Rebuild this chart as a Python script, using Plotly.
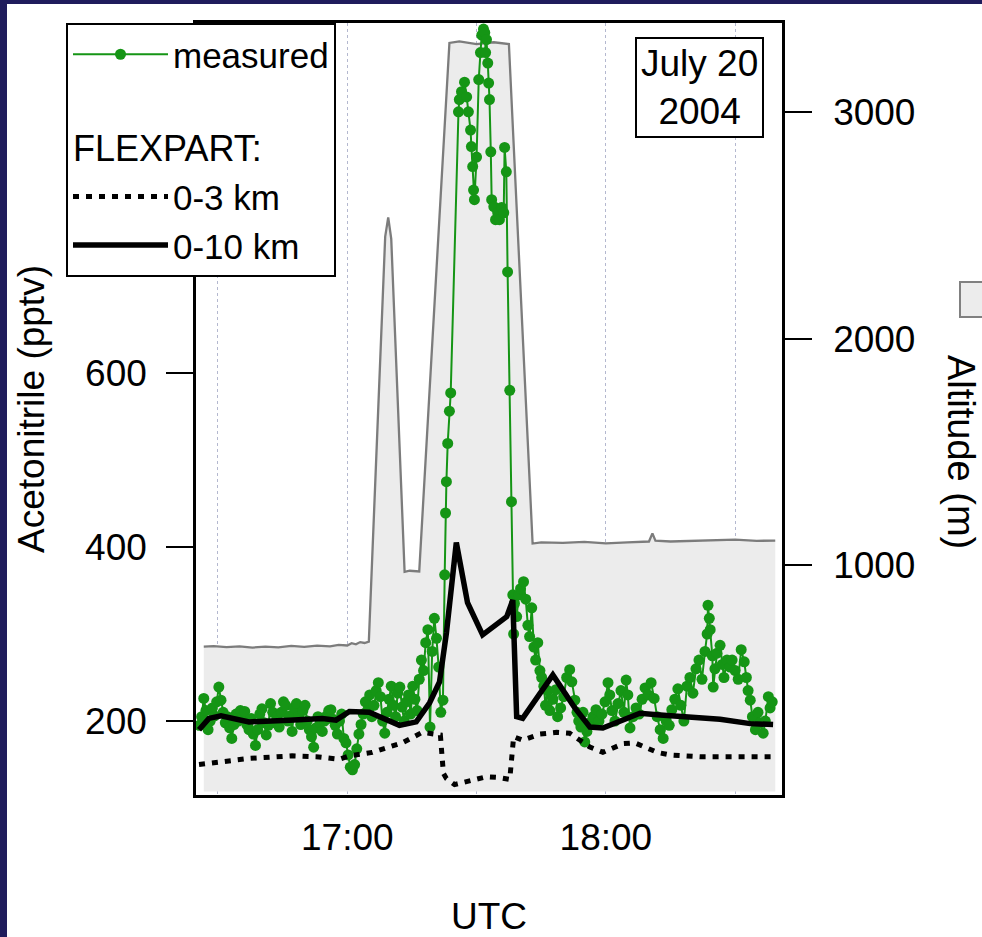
import pandas as pd
import plotly.graph_objects as go

DAY_ORIGIN = "2004-07-20 16:30:00"

# ---- measured acetonitrile (pptv); times in minutes after 16:30 UTC ----
meas_min_pre = [-4.3, -3.8, -3.3, -2.8, -2.3, -1.8, -1.3, -0.8, -0.3, 0.2,
                0.7, 1.2, 1.7, 2.2, 2.7, 3.2, 3.7, 4.2, 4.7, 5.2,
                5.7, 6.2, 6.7, 7.2, 7.7, 8.2, 8.7, 9.2, 9.7, 10.2,
                10.7, 11.2, 11.7, 12.2, 12.7, 13.2, 13.7, 14.2, 14.7, 15.2,
                15.7, 16.2, 16.7, 17.2, 17.7, 18.2, 18.7, 19.2, 19.7, 20.2,
                20.7, 21.2, 21.7, 22.2, 22.7, 23.2, 23.7, 24.2, 24.7, 25.2,
                25.7, 26.2, 26.7, 27.2, 27.7, 28.2, 28.7, 29.2, 29.7, 30.2,
                30.7, 31.2, 31.7, 32.2, 32.7, 33.2, 33.7, 34.2, 34.7,
                35.2, 35.7, 36.2, 36.7, 37.2, 37.7, 38.2, 38.7, 39.2, 39.7,
                40.2, 40.7, 41.2, 41.7, 42.2, 42.7, 43.2, 43.7, 44.2, 44.7,
                45.2, 45.7, 46.2, 46.7, 47.2, 47.7, 48.2, 48.7, 49.2, 49.7,
                50.2, 50.7, 51.2, 51.7, 52.2]
meas_val_pre = [195, 205, 226, 212, 190, 200, 215, 206, 222, 239,
                224, 210, 198, 205, 192, 180, 196, 208, 200, 212,
                205, 211, 196, 190, 203, 185, 172, 190, 208, 214,
                198, 184, 195, 220, 210, 198, 205, 193, 210, 222,
                218, 200, 206, 188, 215, 220, 205, 196, 212, 218,
                200, 190, 182, 170, 192, 205, 198, 188, 200, 206,
                212, 213, 202, 195, 185, 200, 208, 180, 175, 161,
                147, 144, 150, 168, 185, 196, 208, 222, 212,
                230, 205, 218, 235, 244, 228, 200, 186, 210, 225,
                240, 218, 205, 232, 239, 216, 200, 222, 230, 208,
                240, 225, 212, 248, 270, 258, 290, 305, 193, 280,
                318, 295, 262, 210, 224]

meas_min_plume = [52.6, 52.8, 53.0, 53.3, 53.7, 54.0,
                  55.8, 56.0, 56.5, 57.2, 57.7, 58.1, 58.6, 58.8, 59.1, 59.3, 59.5,
                  60.0, 60.5, 60.9, 61.2, 61.6, 61.9, 62.1, 62.3, 62.6, 62.8, 63.0, 63.3, 63.5,
                  64.0, 64.4, 64.9, 65.3, 65.8, 66.3, 66.5, 66.9, 67.2, 67.7, 68.1, 68.4]
meas_val_plume = [368, 439, 475, 519, 556, 577,
                  900, 914, 923, 934, 917, 900, 879, 860, 837, 810, 799,
                  848, 937, 968, 988, 995, 991, 968, 983, 956, 933, 914, 854, 799,
                  791, 776, 784, 776, 790, 784, 859, 831, 716, 580, 452, 345]

meas_min_post = [68.6, 68.8, 69.3, 69.8, 70.2, 70.9, 71.4, 71.9, 72.3, 72.8,
                 73.3, 73.7, 74.2, 74.7, 75.1, 75.6, 76.0, 76.5, 77.0, 77.7,
                 78.4, 78.8, 79.5, 80.2, 80.9, 81.6, 82.1, 82.8, 83.3, 83.7,
                 84.2, 84.7, 85.1, 85.6, 86.3, 87.0, 87.7, 88.4, 89.1, 89.8,
                 90.5, 90.9, 91.4, 92.1, 92.8, 93.5, 94.2, 94.7, 95.1, 95.6,
                 96.3, 97.0, 97.7, 98.4, 99.1, 99.8, 100.5, 101.2, 101.9, 102.6,
                 103.3, 104.0, 104.7, 105.3, 106.0, 106.7, 107.4, 108.1, 108.8, 109.5,
                 110.2, 110.9, 111.6, 112.3, 113.0, 113.5, 113.7, 114.0, 114.2, 114.7,
                 114.9, 115.3, 115.8, 116.5, 117.0, 117.4, 118.1, 118.8, 119.3, 120.0,
                 120.7, 121.4, 122.1, 122.6, 123.0, 123.5, 124.0, 124.7, 125.3, 125.8,
                 126.5, 127.0, 127.7, 128.1, 128.6]
meas_val_post = [300, 335, 320, 345, 352, 360, 340, 310, 297, 330,
                 285, 270, 290, 258, 250, 240, 218, 235, 212, 225,
                 236, 205, 215, 228, 250, 259, 245, 224, 210, 200,
                 193, 210, 176, 188, 198, 205, 213, 200, 208, 222,
                 244, 230, 212, 200, 220, 235, 210, 247, 230, 192,
                 205, 215, 208, 225, 238, 230, 244, 226, 205, 190,
                 180, 200, 195, 213, 225, 237, 218, 200, 240, 250,
                 232, 260, 270, 248, 280, 300, 333, 318, 305, 275,
                 239, 260, 278, 287, 265, 250, 270, 262, 270, 258,
                 248, 282, 268, 250, 235, 224, 205, 190, 210, 198,
                 186, 200, 228, 215, 222]

# ---- FLEXPART 0-10 km ----
flex10_min = [-4.4, -2.1, 0.7, 7.2, 16.5, 24.2, 27.4, 30.5, 35.1, 39.8, 42.1, 46.0,
              49.1, 51.4, 53.0, 55.3, 57.9, 61.4, 67.0, 68.4, 69.3, 70.7, 77.7,
              82.8, 86.3, 89.3, 93.3, 97.9, 102.6, 107.9, 116.5, 123.5, 128.8]
flex10_val = [190, 203, 206, 199, 201, 203, 201, 211, 210, 201, 195, 199,
              221, 245, 301, 405, 336, 299, 320, 339, 205, 203, 253,
              215, 193, 192, 200, 209, 207, 205, 202, 197, 196]

# ---- FLEXPART 0-3 km ----
flex3_min = [-4.4, 7.2, 17.2, 22.8, 28.1, 30.5, 35.8, 38.1, 42.8, 47.4, 49.5, 51.6,
             52.3, 53.0, 54.9, 56.7, 59.5, 62.3, 65.3, 67.7, 68.6, 70.7, 74.7,
             78.6, 81.6, 84.0, 86.3, 89.3, 94.0, 96.7, 99.5, 101.9, 104.9, 111.9, 128.8]
flex3_val = [150, 157, 160, 159, 156, 160, 164, 168, 175, 187, 186, 184,
             140, 134, 127, 129, 133, 136, 135, 133, 182, 178, 185,
             187, 186, 178, 170, 164, 174, 175, 169, 164, 161, 159, 159]

# ---- aircraft altitude (m) ----
alt_min = [-3.3, -1.0, 2.0, 5.0, 8.0, 11.0, 14.0, 17.0, 20.0, 23.0, 26.0, 28.0,
           30.0, 31.0, 32.0, 33.0, 34.0, 35.0, 38.8, 39.5, 40.2, 43.3, 44.5, 46.7,
           53.7, 56.0, 60.0, 64.0, 67.5, 73.0, 75.0, 80.0, 85.0, 90.0, 95.0, 100.0,
           100.8, 101.5, 105.0, 110.0, 115.0, 120.0, 125.0, 129.3]
alt_m = [640, 642, 638, 641, 636, 640, 637, 643, 639, 644, 641, 648,
         645, 655, 650, 660, 656, 662, 2450, 2535, 2440, 970, 975, 972,
         3305, 3312, 3300, 3308, 3300, 1095, 1100, 1098, 1102, 1096, 1100, 1104,
         1140, 1108, 1104, 1106, 1110, 1112, 1107, 1108]

tick_clock = ["16:30", "17:00", "17:30", "18:00", "18:30"]
tick_text = ["", "17:00", "", "18:00", ""]
x_start, x_end = "2004-07-20 16:24:54", "2004-07-20 18:40:52"


def to_time(mins):
    return pd.Timestamp(DAY_ORIGIN) + pd.to_timedelta(mins, unit="min")


meas_t = to_time(meas_min_pre + meas_min_plume + meas_min_post)
meas_v = meas_val_pre + meas_val_plume + meas_val_post
tick_t = [pd.Timestamp("2004-07-20 " + c) for c in tick_clock]

FONT = "Liberation Sans, Arial, sans-serif"
FS = 37
GREEN = "#159515"

fig = go.Figure()
fig.add_trace(go.Scatter(x=to_time(alt_min), y=alt_m, yaxis="y", mode="lines",
                         line=dict(color="#7c7c7c", width=2.3), fill="tozeroy",
                         fillcolor="#ececec", showlegend=False, name="Altitude"))
fig.add_trace(go.Scatter(x=meas_t, y=meas_v, yaxis="y2", mode="lines+markers",
                         line=dict(color=GREEN, width=2),
                         marker=dict(color=GREEN, size=11), name="measured"))
fig.add_trace(go.Scatter(x=to_time(flex3_min), y=flex3_val, yaxis="y2", mode="lines",
                         line=dict(color="black", width=5, dash="6px,7px"),
                         name="0-3 km", legendgroup="flex",
                         legendgrouptitle=dict(text="FLEXPART:",
                                               font=dict(size=36, family=FONT, color="black"))))
fig.add_trace(go.Scatter(x=to_time(flex10_min), y=flex10_val, yaxis="y2", mode="lines",
                         line=dict(color="black", width=5.5),
                         name="0-10 km", legendgroup="flex"))

px0, py0, pw, ph = 196, 795, 586, 772


def pxx(v):
    return (v - px0) / pw


def pyy(v):
    return (py0 - v) / ph


fig.update_layout(
    template="none",
    width=982, height=937, autosize=False,
    margin=dict(l=196, r=200, t=23, b=142),
    paper_bgcolor="white", plot_bgcolor="white",
    font=dict(family=FONT, size=FS, color="black"),
    xaxis=dict(type="date", range=[x_start, x_end], automargin=False,
               tickvals=tick_t, ticktext=tick_text, ticks="", ticklabelstandoff=8,
               showgrid=True, gridcolor="#b4b8cf", griddash="dot", gridwidth=1,
               showline=True, linecolor="black", linewidth=2.5, mirror=True,
               zeroline=False, tickfont=dict(size=FS),
               title=dict(text="UTC", font=dict(size=FS), standoff=52)),
    yaxis=dict(side="right", range=[-15, 3393], tickvals=[1000, 2000, 3000],
               automargin=False,
               ticks="outside", ticklen=27, tickwidth=2, tickcolor="black",
               ticklabelstandoff=14,
               showline=True, linecolor="black", linewidth=2.5,
               showgrid=False, zeroline=False, tickfont=dict(size=FS)),
    yaxis2=dict(overlaying="y", side="left", range=[115, 1002], tickvals=[200, 400, 600],
                automargin=False,
                ticks="outside", ticklen=27, tickwidth=2, tickcolor="black",
                ticklabelstandoff=12,
                showline=True, linecolor="black", linewidth=2.5,
                showgrid=False, zeroline=False, tickfont=dict(size=FS),
                title=dict(text="Acetonitrile (pptv)", font=dict(size=FS), standoff=30)),
    legend=dict(x=pxx(66), y=1.0, xanchor="left", yanchor="top",
                bgcolor="white", bordercolor="black", borderwidth=2,
                font=dict(size=35, family=FONT, color="black"),
                itemwidth=95, tracegroupgap=44, traceorder="grouped"),
    showlegend=True,
)

fig.add_annotation(text="July 20<br>2004", xref="paper", yref="paper",
                   x=pxx(699), y=pyy(87.5), xanchor="center", yanchor="middle",
                   showarrow=False, font=dict(size=FS), align="center",
                   bgcolor="white", bordercolor="black", borderwidth=2, borderpad=4)
fig.add_annotation(text="Altitude (m)", xref="paper", yref="paper",
                   x=pxx(961), y=pyy(452), xanchor="center", yanchor="middle",
                   showarrow=False, textangle=90, font=dict(size=38))

# altitude legend swatch (partly outside the picture, as in the original)
fig.add_shape(type="rect", xref="paper", yref="paper",
              x0=pxx(960), x1=pxx(996), y0=pyy(317), y1=pyy(282),
              fillcolor="#ececec", line=dict(color="#808080", width=2))
# dark frame of the slide
NAVY = "#1f1c5c"
fig.add_shape(type="rect", xref="paper", yref="paper", layer="above",
              x0=pxx(-20), x1=pxx(7), y0=pyy(960), y1=pyy(-20),
              fillcolor=NAVY, line=dict(width=0))
fig.add_shape(type="rect", xref="paper", yref="paper", layer="above",
              x0=pxx(-20), x1=pxx(1000), y0=pyy(4), y1=pyy(-20),
              fillcolor=NAVY, line=dict(width=0))

fig.write_html("out.html")
